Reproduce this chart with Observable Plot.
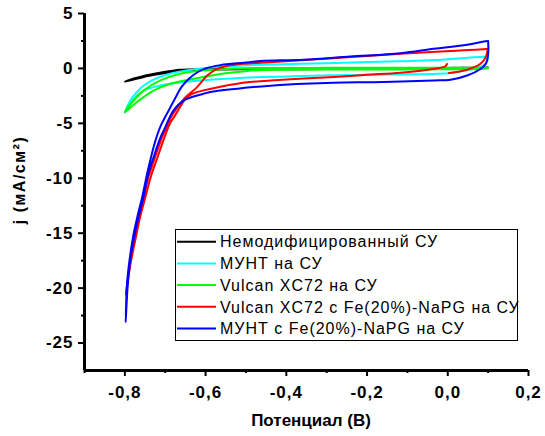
<!DOCTYPE html>
<html><head><meta charset="utf-8">
<script src="https://cdn.jsdelivr.net/npm/d3@7"></script>
<script src="https://cdn.jsdelivr.net/npm/@observablehq/plot@0.6"></script>
<style>
body{margin:0;background:#fff;}
svg{display:block}
g[aria-label="x-axis tick label"] text, g[aria-label="y-axis tick label"] text {letter-spacing:1px}
</style>
</head><body>
<script>
const seriesNames = ["Немодифицированный СУ","МУНТ на СУ","Vulcan XC72 на СУ","Vulcan XC72 с Fe(20%)-NaPG на СУ","МУНТ с Fe(20%)-NaPG на СУ"];
const seriesColors = ["#000000","#00ffff","#00ff00","#ff0000","#0000ff"];

const blackE = [0.1,-0.1,-0.3,-0.5,-0.6,-0.662,-0.687,-0.72,-0.753,-0.778,-0.8,-0.778,-0.753,-0.72,-0.687,-0.662,-0.6,-0.5,-0.3,-0.1,0.05,0.1];
const blackJ = [0.08,0.03,0.0,-0.02,-0.06,-0.12,-0.24,-0.44,-0.68,-0.92,-1.22,-1.02,-0.78,-0.54,-0.34,-0.2,-0.12,-0.08,-0.06,-0.04,-0.02,0.08];

const cyanE = [0.1,0.048,-0.035,-0.117,-0.216,-0.365,-0.489,-0.571,-0.621,-0.662,-0.695,-0.728,-0.753,-0.769,-0.786,-0.8,-0.786,-0.769,-0.753,-0.712,-0.67,-0.588,-0.464,-0.365,-0.28,-0.2,-0.117,-0.035,0.007,0.048,0.07,0.088,0.097,0.1];
const cyanJ = [1.09,0.98,0.76,0.66,0.56,0.42,0.3,0.12,-0.05,-0.27,-0.55,-1.0,-1.55,-2.1,-2.9,-4.0,-3.2,-2.45,-2.0,-1.55,-1.3,-1.03,-0.79,-0.7,-0.62,-0.58,-0.55,-0.5,-0.42,-0.15,0.0,0.27,0.6,1.09];

const greenE = [0.1,-0.1,-0.3,-0.464,-0.546,-0.621,-0.67,-0.712,-0.753,-0.778,-0.8,-0.77,-0.728,-0.687,-0.629,-0.571,-0.505,-0.464,-0.4,-0.2,0.0,0.09,0.1];
const greenJ = [0.06,0.05,0.05,0.03,-0.05,-0.24,-0.55,-1.09,-2.0,-2.9,-3.97,-3.06,-2.0,-1.39,-0.94,-0.55,-0.27,-0.14,-0.12,-0.1,-0.08,-0.03,0.06];

const redE = [0.003,0.048,0.081,0.094,0.098,0.094,0.007,-0.117,-0.241,-0.365,-0.439,-0.505,-0.55,-0.575,-0.596,-0.621,-0.652,-0.682,-0.708,-0.728,-0.741,-0.754,-0.766,-0.775,-0.784,-0.793,-0.798,-0.786,-0.774,-0.762,-0.749,-0.736,-0.72,-0.704,-0.688,-0.676,-0.648,-0.632,-0.605,-0.522,-0.489,-0.439,-0.357,-0.282,-0.2,-0.117,-0.035,-0.006,-0.002];
const redJ = [-0.42,-0.12,0.42,1.03,1.79,1.76,1.58,1.33,1.03,0.75,0.57,0.42,0.2,-0.1,-0.65,-1.7,-2.7,-4.2,-6.3,-8.4,-9.8,-11.7,-13.5,-15.0,-16.8,-19.3,-20.6,-17.8,-15.6,-13.5,-11.7,-9.9,-8.2,-6.5,-5.0,-4.3,-2.7,-2.3,-2.0,-1.39,-1.24,-1.1,-0.92,-0.78,-0.58,-0.39,-0.05,0.2,0.4];

const blueE = [0.1,0.089,0.048,-0.035,-0.117,-0.241,-0.357,-0.464,-0.505,-0.563,-0.6,-0.62,-0.64,-0.66,-0.675,-0.691,-0.712,-0.724,-0.734,-0.745,-0.757,-0.769,-0.778,-0.786,-0.794,-0.798,-0.793,-0.785,-0.775,-0.766,-0.754,-0.742,-0.728,-0.712,-0.703,-0.679,-0.654,-0.605,-0.588,-0.522,-0.489,-0.439,-0.357,-0.283,-0.159,-0.035,0.007,0.048,0.081,0.094,0.1,0.1];
const blueJ = [2.5,2.45,2.15,1.79,1.39,1.09,0.8,0.67,0.52,0.3,0.0,-0.35,-0.9,-1.7,-2.7,-3.8,-5.3,-6.55,-7.9,-9.6,-11.7,-13.5,-15.0,-16.8,-19.3,-23.1,-19.8,-17.0,-15.0,-13.5,-11.7,-9.6,-8.0,-6.3,-5.6,-3.8,-2.9,-2.3,-2.15,-1.85,-1.72,-1.58,-1.4,-1.3,-1.24,-1.1,-1.03,-0.65,-0.05,0.4,1.3,2.5];

const xMajorTicks = [-0.8,-0.6,-0.4,-0.2,0.0,0.2];
const xMinorTicks = [-0.9,-0.7,-0.5,-0.3,-0.1,0.1];
const yMajorTicks = [-25,-20,-15,-10,-5,0,5];
const yMinorTicks = [-22.5,-17.5,-12.5,-7.5,-2.5,2.5];
const xTitle = "Потенциал (В)";
const yTitle = "j (мА/см²)";

const seriesE = [blackE, cyanE, greenE, redE, blueE];
const seriesJ = [blackJ, cyanJ, greenJ, redJ, blueJ];
const rows = seriesNames.flatMap((name, i) => seriesE[i].map((e, k) => ({name, e, j: seriesJ[i][k]})));

const fmtX = d => d.toFixed(1).replace(".", ",");
const fmtY = d => String(d);

const chart = Plot.plot({
  width: 545, height: 436,
  marginLeft: 84, marginRight: 17, marginTop: 13, marginBottom: 66,
  style: {fontFamily: "'Liberation Sans', Arial, sans-serif", background: "#fff", color: "#000"},
  x: {domain: [-0.9, 0.2], label: null},
  y: {domain: [-27.5, 5], label: null},
  color: {domain: seriesNames, range: seriesColors},
  marks: [
    Plot.line(rows, {x: "e", y: "j", z: "name", stroke: "name", strokeWidth: 2, curve: "catmull-rom"}),
    Plot.ruleX([-0.9], {strokeWidth: 3}),
    Plot.ruleY([-27.5], {strokeWidth: 3}),
    Plot.axisX(xMajorTicks, {tickSize: 6, tickPadding: 9, strokeWidth: 2, tickFormat: fmtX, fontSize: 17, fontWeight: "bold", label: null}),
    Plot.axisX(xMinorTicks, {tickSize: 3, strokeWidth: 2, tickFormat: () => "", label: null}),
    Plot.axisY(yMajorTicks, {tickSize: 6, tickPadding: 5, strokeWidth: 2, tickFormat: fmtY, fontSize: 17, fontWeight: "bold", label: null}),
    Plot.axisY(yMinorTicks, {tickSize: 3, strokeWidth: 2, tickFormat: () => "", label: null})
  ]
});
document.body.appendChild(chart);

const svg = d3.select(chart);
const ff = "'Liberation Sans', Arial, sans-serif";
svg.append("text")
  .attr("transform", "translate(19,180) rotate(-90)")
  .attr("text-anchor", "middle").attr("dy", "0.35em")
  .attr("font-family", ff).attr("font-size", 16).attr("font-weight", "bold")
  .attr("letter-spacing", 1.5).attr("fill", "#000")
  .text(yTitle);
svg.append("text")
  .attr("x", 311).attr("y", 426)
  .attr("text-anchor", "middle")
  .attr("font-family", ff).attr("font-size", 17).attr("font-weight", "bold")
  .attr("fill", "#000")
  .text(xTitle);

const lg = svg.append("g").attr("text-anchor", "start");
lg.append("rect").attr("x", 175.5).attr("y", 229.5).attr("width", 342).attr("height", 111)
  .attr("fill", "#fff").attr("stroke", "#000").attr("stroke-width", 1);
seriesNames.forEach((name, i) => {
  const y = 241.7 + i * 21.7;
  lg.append("line").attr("x1", 177).attr("x2", 216).attr("y1", y).attr("y2", y)
    .attr("stroke", seriesColors[i]).attr("stroke-width", 2);
  lg.append("text").attr("x", 220).attr("y", y + 5.7)
    .attr("text-anchor", "start")
    .attr("font-family", ff).attr("font-size", 16).attr("letter-spacing", 1)
    .attr("fill", "#000").text(name);
});
</script>
</body></html>
